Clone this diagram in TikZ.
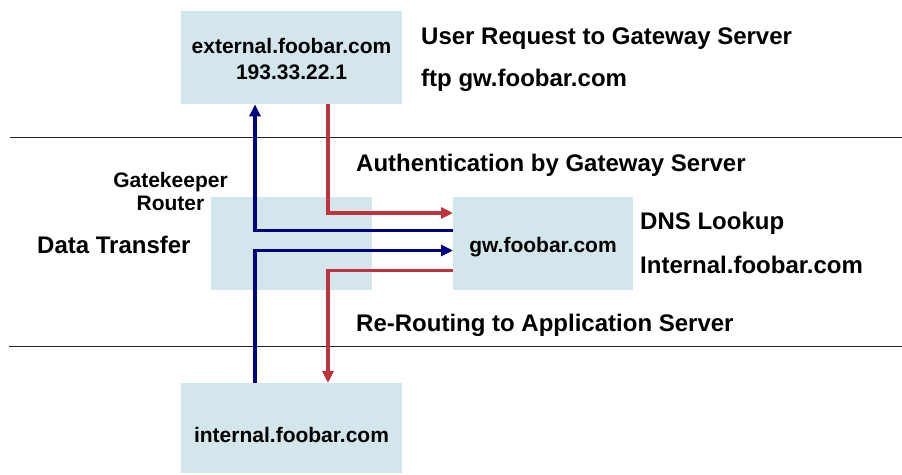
\documentclass[tikz,border=0pt]{standalone}
\usepackage{fontspec}
\setmainfont{Liberation Sans}
\usetikzlibrary{arrows.meta}
\definecolor{boxfill}{RGB}{210,230,235}
\definecolor{flowred}{RGB}{192,50,62}
\definecolor{flowblue}{RGB}{0,0,128}
\definecolor{sepgray}{RGB}{35,35,35}
\tikzset{
  hostbox/.style={fill=boxfill, draw=none, inner sep=0pt, anchor=north west},
  boxtext/.style={inner sep=0pt, anchor=base, font=\bfseries\fontsize{21}{25}\selectfont},
  notetext/.style={inner sep=0pt, anchor=base west, font=\bfseries\fontsize{24}{28}\selectfont},
  flow/.style={line width=3.2pt, -{Triangle[length=12pt,width=11pt]}},
  redflow/.style={flow, draw=flowred},
  blueflow/.style={flow, draw=flowblue},
  sepline/.style={draw=sepgray, line width=1.7pt}
}
\begin{document}
\begin{tikzpicture}[x=1pt, y=-1pt]
  \useasboundingbox (0,0) rectangle (902,474);

  % zone separators
  \draw[sepline] (10,137.5) -- (902,137.5);
  \draw[sepline] (9,346.5) -- (902,346.5);

  % hosts
  \node[hostbox, minimum width=221pt, minimum height=93pt] (ext) at (181,11) {};
  \node[hostbox, minimum width=161pt, minimum height=93pt] (router) at (211,197) {};
  \node[hostbox, minimum width=180pt, minimum height=93pt] (gw) at (453,197) {};
  \node[hostbox, minimum width=221pt, minimum height=90pt] (int) at (181,383) {};

  \node[boxtext] (extname) at (291.5,53) {external.foobar.com};
  \node[boxtext] (extip) at (291.5,79) {193.33.22.1};
  \node[boxtext] (gwname) at (543,252) {gw.foobar.com};
  \node[boxtext] (intname) at (291.5,442) {internal.foobar.com};
  \node[boxtext] (gk1) at (170.5,187) {Gatekeeper};
  \node[boxtext] (gk2) at (170.5,210) {Router};

  % step descriptions
  \node[notetext] (n1) at (421,44) {User Request to Gateway Server};
  \node[notetext] (n2) at (421,86) {ftp gw.foobar.com};
  \node[notetext] (n3) at (356,171) {Authentication by Gateway Server};
  \node[notetext] (n4) at (640,229) {DNS Lookup};
  \node[notetext] (n5) at (640,273) {Internal.foobar.com};
  \node[notetext] (n6) at (356,331) {Re-Routing to Application Server};
  \node[notetext] (n7) at (37,253) {Data Transfer};

  % flow columns
  \coordinate (rx) at (328,0);
  \coordinate (bx) at (255,0);

  % request and re-routing (red), data transfer (blue)
  \draw[redflow] (ext.south -| rx) |- ([yshift=-16pt]gw.north west);
  \draw[blueflow] ([yshift=-33.5pt]gw.north west) -| (ext.south -| bx);
  \draw[blueflow] (int.north -| bx) |- ([yshift=-53.5pt]gw.north west);
  \draw[redflow] ([yshift=-73.5pt]gw.north west) -| (int.north -| rx);
\end{tikzpicture}
\end{document}
